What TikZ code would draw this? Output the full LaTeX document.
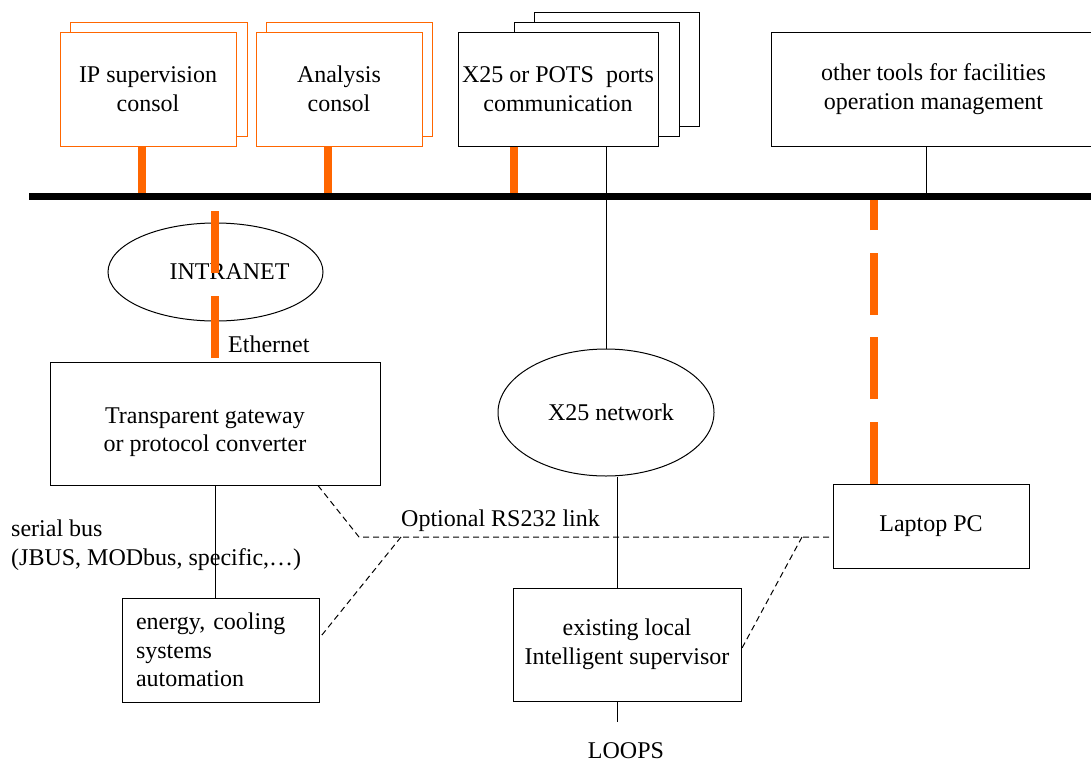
\documentclass[tikz,border=0pt]{standalone}
\usepackage{fontspec}
\setmainfont{Liberation Serif}
\frenchspacing
\usetikzlibrary{shapes.geometric}

\definecolor{netorange}{RGB}{255,102,0}

\begin{document}
\begin{tikzpicture}[x=1pt,y=-1pt,
    every node/.style={font=\fontsize{24}{28.5}\selectfont},
    unitbox/.style={draw,fill=white,line width=1pt,align=center,minimum height=114pt},
    console/.style={unitbox,draw=netorange},
    box/.style={draw,fill=white,line width=1pt,align=center},
    netcloud/.style={draw,ellipse,line width=1pt,inner sep=0pt},
    lbl/.style={inner sep=0pt,align=left},
    stub/.style={draw=netorange,line width=8.5pt},
    wlink/.style={draw=netorange,line width=8pt,dash pattern=on 62pt off 22.5pt},
    rs/.style={line width=1pt,dash pattern=on 6pt off 4pt},
    bus/.style={line width=7pt}]
  \useasboundingbox[fill=white] (0,0) rectangle (1091,763);

  \node[console,minimum width=177pt] (ipback) at (158.5,79) {};
  \node[console,minimum width=176pt] (ip) at (148,89) {IP supervision\\consol};
  \node[console,minimum width=166pt] (anback) at (349,79) {};
  \node[console,minimum width=166pt] (an) at (339,89) {Analysis\\consol};
  \node[unitbox,minimum width=165pt] (ptback2) at (616.5,69) {};
  \node[unitbox,minimum width=165pt] (ptback1) at (596.5,79) {};
  \node[unitbox,minimum width=200pt] (ports) at (558,89) {X25 or POTS\ \ ports\\communication};
  \node[unitbox,minimum width=325pt] (tools) at (933.5,89) {other tools for facilities\\operation management};

  \node[netcloud,minimum width=215pt,minimum height=98pt] (intranet) at (215.5,272) {\hspace*{28pt}INTRANET};
  \node[box,minimum width=330pt,minimum height=123pt,
        label={[align=center,xshift=-10pt,yshift=-8.5pt]center:{Transparent gateway\\or protocol converter}}] (gw) at (215,423.5) {};
  \node[lbl,anchor=west] (eth) at (228,344) {Ethernet};
  \node[netcloud,minimum width=216pt,minimum height=127pt] (x25net) at (606,412.5) {\hspace*{10pt}X25 network};
  \node[box,align=left,text width=169pt,inner xsep=14pt,minimum height=104pt] (energy) at (220.5,650) {energy, cooling\\systems\\automation};
  \node[box,minimum width=228pt,minimum height=113pt] (local) at (627,644.5) {existing local\\Intelligent supervisor};
  \node[box,minimum width=196pt,minimum height=84pt] (laptop) at (931,526) {Laptop PC};
  \node[lbl] (loops) at (626,751) {LOOPS};
  \node[lbl,anchor=west] (serial) at (11,545) {serial bus\\(JBUS, MODbus, specific,…)};
  \node[lbl,anchor=west] (rslbl) at (401,521) {Optional RS232 link};

  \coordinate (busL) at (29,196.5);
  \coordinate (busR) at (1091,196.5);
  \coordinate (rsA) at (359,537);
  \coordinate (rsB) at (401,537);
  \coordinate (rsC) at (802,537);

  \draw[stub] ([xshift=-6pt]ip.south) -- ([xshift=-6pt]ip.south |- busL);
  \draw[stub] ([xshift=-11pt]an.south) -- ([xshift=-11pt]an.south |- busL);
  \draw[stub] ([xshift=-44pt]ports.south) -- ([xshift=-44pt]ports.south |- busL);
  \draw[line width=1pt] ([xshift=48pt]ports.south) -- (x25net.north);
  \draw[line width=1pt] ([xshift=-7.5pt]tools.south) -- ([xshift=-7.5pt]tools.south |- busL);

  \draw[line width=1pt] (gw.south) -- (gw.south |- energy.north);
  \draw[line width=1pt] ([xshift=-10pt]local.north) -- ([xshift=-10pt]local.north |- x25net.south);
  \draw[line width=1pt,shorten >=21pt] ([xshift=-10pt]local.south) -- ([xshift=-10pt]local.south |- loops.north);

  \draw[rs] ([xshift=103pt]gw.south) -- (rsA) -- ([yshift=-11pt]laptop.west);
  \draw[rs] (rsB) -- ([yshift=12pt]energy.east);
  \draw[rs] (rsC) -- ([yshift=-4.5pt]local.east);

  \draw[wlink] ([yshift=4pt]gw.north) -- (gw.north |- busL);
  \draw[wlink] ([xshift=-57pt]laptop.north) -- ([xshift=-57pt]laptop.north |- busL);

  \draw[bus] (busL) -- (busR);
\end{tikzpicture}
\end{document}
